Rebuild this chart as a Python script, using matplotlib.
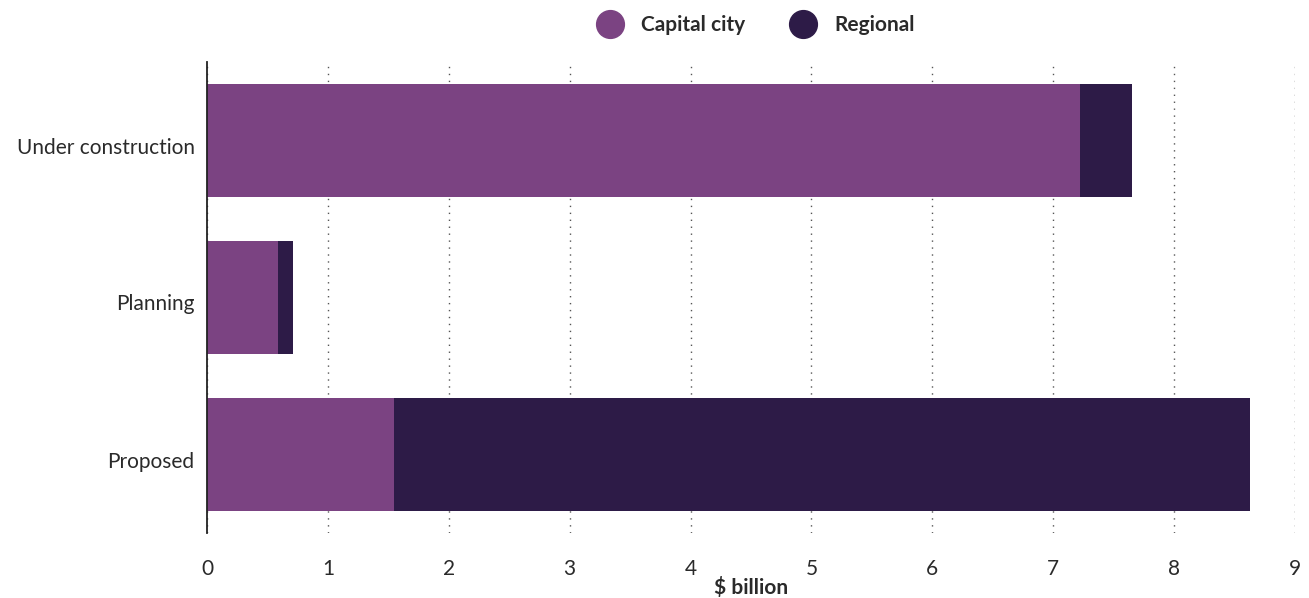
import numpy as np
import matplotlib.pyplot as plt
import matplotlib.transforms as mtransforms
from matplotlib.lines import Line2D

# data ($ billion)
stages = ["Under construction", "Planning", "Proposed"]
capital = [7.22, 0.59, 1.55]
regional = [0.43, 0.12, 7.08]
xticks = [0, 1, 2, 3, 4, 5, 6, 7, 8, 9]

c_capital = "#7b4382"
c_regional = "#2d1b47"

plt.rcParams['font.family'] = ['Lato', 'DejaVu Sans']

fig = plt.figure(figsize=(13.09, 5.98), dpi=100)
ax = fig.add_axes([207/1309, 1 - 533/598, (1295-207)/1309, (533-62)/598])

y = np.arange(len(stages))
ax.barh(y, capital, height=0.726, color=c_capital, zorder=3)
ax.barh(y, regional, left=capital, height=0.726, color=c_regional, zorder=3)

ax.set_ylim(2.5, -0.5)
ax.set_xlim(0, 9)
ax.set_xticks(xticks)
ax.set_yticks(y)
ax.set_yticklabels(stages, fontsize=15, color="#2a2a2a")
ax.tick_params(axis="x", length=0, pad=19, labelsize=15, labelcolor="#2a2a2a")
ax.tick_params(axis="y", length=0, pad=9)

# category labels sit a little below the bar centres
shift = mtransforms.ScaledTranslation(0, -5/100, fig.dpi_scale_trans)
for lab in ax.get_yticklabels():
    lab.set_transform(lab.get_transform() + shift)

ax.grid(axis="x", linestyle=(0, (1, 4)), color="#555555", linewidth=1, zorder=0)
for s in ["top", "right", "bottom"]:
    ax.spines[s].set_visible(False)
ax.spines["left"].set_color("#222222")
ax.spines["left"].set_linewidth(1.3)
ax.spines["left"].set_zorder(4)

ax.set_xlabel("$ billion", fontsize=15, fontweight="bold", color="#2a2a2a", labelpad=-2)

handles = [Line2D([], [], marker="o", linestyle="", markersize=20, color=c_capital),
           Line2D([], [], marker="o", linestyle="", markersize=20, color=c_regional)]
fig.legend(handles, ["Capital city", "Regional"], loc="center", bbox_to_anchor=(752/1309, 1 - 25/598),
           ncol=2, frameon=False, prop={"size": 15, "weight": "bold"}, labelcolor="#2a2a2a",
           handletextpad=0.5, columnspacing=1.8)

fig.savefig("out.png", dpi=100)
